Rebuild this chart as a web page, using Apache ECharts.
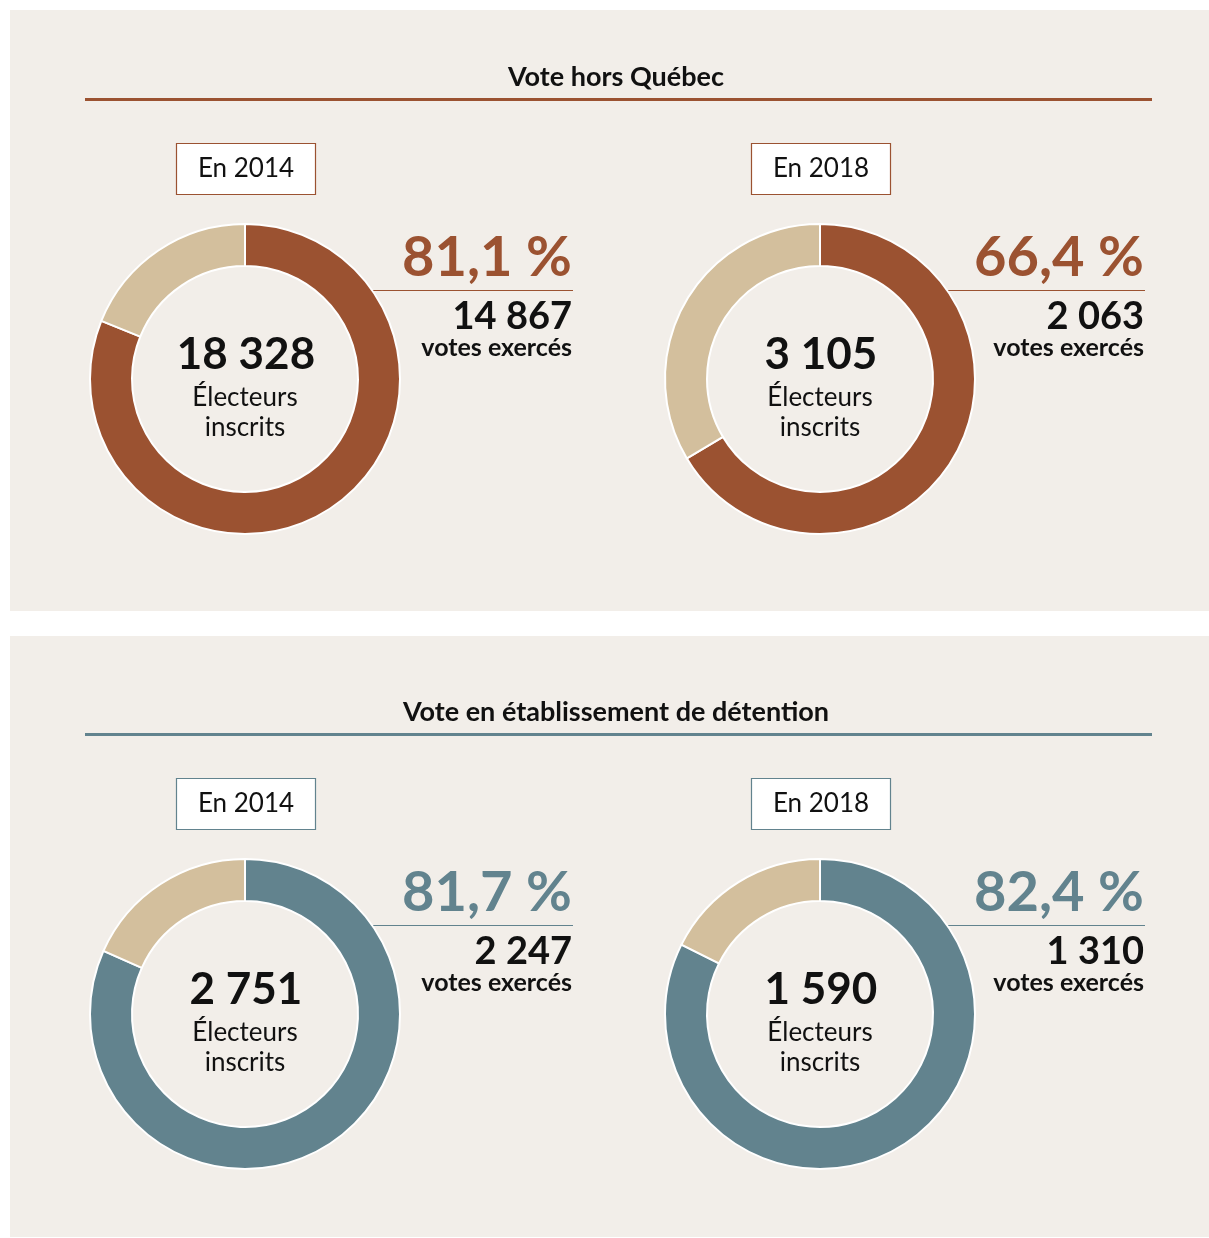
<!DOCTYPE html>
<html>
<head>
<meta charset="utf-8">
<script src="https://cdn.jsdelivr.net/npm/echarts@6/dist/echarts.min.js"></script>
<style>
  html, body { margin: 0; padding: 0; background: #ffffff; }
  #chart { width: 1209px; height: 1238px; }
</style>
</head>
<body>
<div id="chart"></div>
<script>
// data
const panelTitles = ['Vote hors Québec', 'Vote en établissement de détention'];
const years = ['En 2014', 'En 2018'];
const inscrits = [[18328, 3105], [2751, 1590]];
const votes = [[14867, 2063], [2247, 1310]];
const pctLabels = [['81,1 %', '66,4 %'], ['81,7 %', '82,4 %']];

const mainColors = ['#9b5231', '#62838e'];
const restColor = '#d3bf9d';
const bgColor = '#f2eee9';
const font = 'Lato, "Noto Sans", sans-serif';

function fmt(n) {
    return String(n).replace(/\B(?=(\d{3})+(?!\d))/g, ' ');
}

const graphics = [];
const series = [];
const panelTop = [10, 636];
const centersX = [245, 820];
const rightX = [572, 1144];

panelTitles.forEach((title, p) => {
    const y0 = panelTop[p];
    const dy = p * 635;
    const col = mainColors[p];
    graphics.push({
        type: 'rect', z: -10,
        shape: { x: 10, y: y0, width: 1199, height: 601 },
        style: { fill: bgColor }
    });
    graphics.push({
        type: 'text',
        style: { x: 616, y: 77 + dy, text: title, fill: '#111', font: 'bold 27px ' + font,
                 textAlign: 'center', textVerticalAlign: 'middle' }
    });
    graphics.push({
        type: 'rect',
        shape: { x: 85, y: 98 + dy, width: 1067, height: 3 },
        style: { fill: col }
    });

    years.forEach((yr, i) => {
        const cx = centersX[i];
        const cy = 379 + dy;
        // year box
        graphics.push({
            type: 'rect',
            shape: { x: cx - 68.5, y: 143.5 + dy, width: 139, height: 51 },
            style: { fill: '#ffffff', stroke: col, lineWidth: 1.2 }
        });
        graphics.push({
            type: 'text',
            style: { x: cx + 1, y: 169 + dy, text: yr, fill: '#111', font: '26px ' + font,
                     textAlign: 'center', textVerticalAlign: 'middle' }
        });
        // right side figures
        const rx = rightX[i];
        graphics.push({
            type: 'text',
            style: { x: rx, y: 258 + dy, text: pctLabels[p][i], fill: col, font: 'bold 56px ' + font,
                     textAlign: 'right', textVerticalAlign: 'middle' }
        });
        graphics.push({
            type: 'rect',
            shape: { x: rx - 200, y: 290 + dy, width: 201, height: 1 },
            style: { fill: col }
        });
        graphics.push({
            type: 'text',
            style: { x: rx, y: 317 + dy, text: fmt(votes[p][i]), fill: '#111', font: 'bold 38px ' + font,
                     textAlign: 'right', textVerticalAlign: 'middle' }
        });
        graphics.push({
            type: 'text',
            style: { x: rx, y: 348 + dy, text: 'votes exercés', fill: '#111', font: 'bold 25px ' + font,
                     textAlign: 'right', textVerticalAlign: 'middle' }
        });
        // center texts
        graphics.push({
            type: 'text',
            style: { x: cx + 1, y: 355 + dy, text: fmt(inscrits[p][i]), fill: '#111', font: 'bold 44px ' + font,
                     textAlign: 'center', textVerticalAlign: 'middle' }
        });
        graphics.push({
            type: 'text',
            style: { x: cx, y: 398 + dy, text: 'Électeurs', fill: '#111', font: '26px ' + font,
                     textAlign: 'center', textVerticalAlign: 'middle' }
        });
        graphics.push({
            type: 'text',
            style: { x: cx, y: 428 + dy, text: 'inscrits', fill: '#111', font: '26px ' + font,
                     textAlign: 'center', textVerticalAlign: 'middle' }
        });

        series.push({
            type: 'pie',
            silent: true,
            z: 5,
            center: [cx, cy],
            radius: [113, 155],
            startAngle: 90,
            clockwise: true,
            label: { show: false },
            labelLine: { show: false },
            itemStyle: { borderColor: '#ffffff', borderWidth: 2 },
            data: [
                { value: votes[p][i], itemStyle: { color: col } },
                { value: inscrits[p][i] - votes[p][i], itemStyle: { color: restColor } }
            ]
        });
    });
});

const chart = echarts.init(document.getElementById('chart'));
chart.setOption({
    animation: false,
    backgroundColor: '#ffffff',
    series: series,
    graphic: { elements: graphics }
});
</script>
</body>
</html>
